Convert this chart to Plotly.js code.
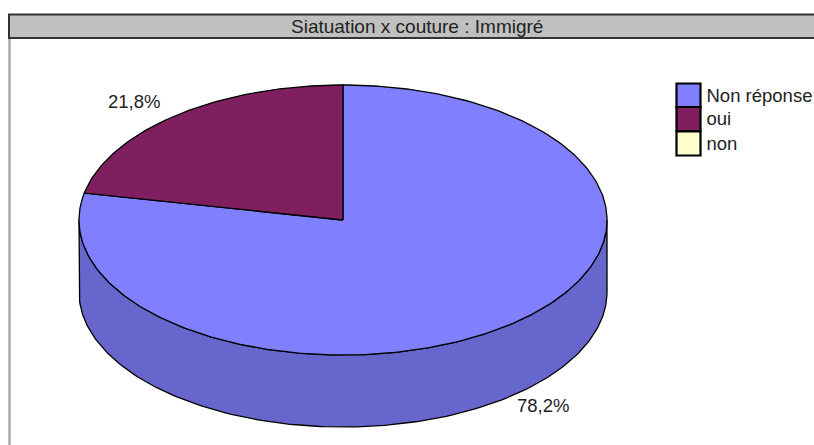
<!DOCTYPE html>
<html>
<head>
<meta charset="utf-8">
<script src="https://cdn.plot.ly/plotly-3.0.1.min.js"></script>
<style>html,body{margin:0;padding:0;background:#fff}#chart{width:814px;height:445px}</style>
</head>
<body>
<div id="chart"></div>
<script>
const chartTitle = "Siatuation x couture : Immigré";
const categories = ["Non réponse", "oui", "non"];
const shares = [78.2, 21.8, 0];
const shareLabels = ["78,2%", "21,8%"];
const sliceColors = ["#8080FF", "#7F1F5F", "#FFFFCC"];
const wallColor = "#6666CC";

// Geometry of the drawing, in axis units
const cx = 343, cy = 220, rx = 264, ry = 135, depth = 72;
const FONT = "Liberation Sans, Arial, sans-serif";

function pt(deg, dy) {
  const a = deg * Math.PI / 180;
  return [cx + rx * Math.sin(a), cy - ry * Math.cos(a) + (dy || 0)];
}
function arc(from, to, dy) {
  const out = [], n = Math.max(2, Math.ceil(Math.abs(to - from)));
  for (let i = 0; i <= n; i++) out.push(pt(from + (to - from) * i / n, dy));
  return out;
}
function poly(points, fill) {
  return {
    type: "scatter", mode: "lines", hoverinfo: "skip", showlegend: false,
    x: points.map(p => p[0]), y: points.map(p => p[1]),
    fill: "toself", fillcolor: fill,
    line: {color: "#000", width: 1.3}
  };
}

const traces = [];
// side wall (front half, drawn first)
traces.push(poly(arc(90, 270, 0).concat(arc(270, 90, depth)).concat([pt(90, 0)]), wallColor));
// top face: slices clockwise from 12 o'clock
let start = 0;
shares.forEach((s, i) => {
  if (s <= 0) return;
  const end = start + s * 3.6;
  traces.push(poly([[cx, cy]].concat(arc(start, end, 0)).concat([[cx, cy]]), sliceColors[i]));
  start = end;
});
// legend
const legendY = [95.5, 119, 143.5];
traces.push({
  type: "scatter", mode: "markers", hoverinfo: "skip", showlegend: false,
  x: [688.5, 688.5, 688.5], y: legendY,
  marker: {symbol: "square", size: 24, color: sliceColors, line: {color: "#000", width: 2.2}}
});
traces.push({
  type: "scatter", mode: "text", hoverinfo: "skip", showlegend: false,
  x: [706.5, 706.5, 706.5], y: legendY.map(v => v + 1.5),
  text: categories, textposition: "middle right",
  textfont: {family: FONT, size: 18.5, color: "#222"}
});

const layout = {
  width: 814, height: 445,
  margin: {l: 0, r: 0, t: 0, b: 0},
  paper_bgcolor: "#fff", plot_bgcolor: "#fff",
  showlegend: false,
  xaxis: {range: [0, 814], visible: false, fixedrange: true},
  yaxis: {range: [445, 0], visible: false, fixedrange: true},
  shapes: [
    {type: "line", xref: "x", yref: "y", x0: 9.5, x1: 9.5, y0: 38, y1: 445, line: {color: "#aaa", width: 2.5}, layer: "below"},
    {type: "rect", xref: "x", yref: "y", x0: 9, x1: 830, y0: 14.5, y1: 38, fillcolor: "#C0C0C0", line: {color: "#333", width: 2}, layer: "below"}
  ],
  annotations: [
    {xref: "x", yref: "y", x: 417, y: 26, text: chartTitle, showarrow: false, font: {family: FONT, size: 19, color: "#222"}},
    {xref: "x", yref: "y", x: 134, y: 101, text: shareLabels[1], showarrow: false, font: {family: FONT, size: 18.5, color: "#222"}},
    {xref: "x", yref: "y", x: 543, y: 405, text: shareLabels[0], showarrow: false, font: {family: FONT, size: 18.5, color: "#222"}}
  ]
};
Plotly.newPlot("chart", traces, layout, {displayModeBar: false, staticPlot: true});
</script>
</body>
</html>
